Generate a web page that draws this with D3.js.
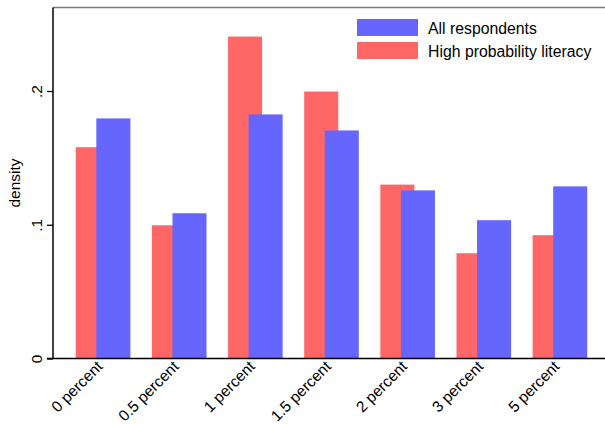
<!DOCTYPE html>
<html><head><meta charset="utf-8">
<script src="https://cdn.jsdelivr.net/npm/d3@7"></script>
<style>body{margin:0;background:#fff}svg{display:block}text{font-family:"Liberation Sans",Arial,sans-serif;fill:#000}</style>
</head><body>
<svg id="c" width="605" height="424"></svg>
<script>
const categories = ["0 percent","0.5 percent","1 percent","1.5 percent","2 percent","3 percent","5 percent"];
const highLiteracy = [0.158, 0.0996, 0.2407, 0.1996, 0.130, 0.0787, 0.0922];
const allRespondents = [0.1795, 0.1086, 0.1825, 0.1705, 0.1257, 0.1034, 0.1287];
const yTicks = [0, 0.1, 0.2];
const yTickLabels = ["0", ".1", ".2"];
const seriesNames = ["All respondents", "High probability literacy"];
const colors = {all: "#6666ff", high: "#ff6666"};

const svg = d3.select("#c");
const x = d3.scaleLinear().domain([-0.5, 6.5]).range([65, 598]);
const y = d3.scaleLinear().domain([0, 0.2]).range([358.5, 91]);
const plotLeft = 53, plotTop = 7.5, plotBottom = y(0);
const bw = x(0.447) - x(0);
const off = x(0.135) - x(0);
const fs = 15.5;

// top frame line
svg.append("line").attr("x1", plotLeft).attr("x2", 605).attr("y1", plotTop).attr("y2", plotTop)
  .attr("stroke", "#7a7a7a").attr("stroke-width", 1.5);

// bars: red behind, blue in front
svg.append("g").selectAll("rect").data(highLiteracy).join("rect")
  .attr("x", (d,i) => x(i) - off - bw/2).attr("width", bw)
  .attr("y", d => y(d)).attr("height", d => y(0) - y(d)).attr("fill", colors.high);
svg.append("g").selectAll("rect").data(allRespondents).join("rect")
  .attr("x", (d,i) => x(i) + off - bw/2).attr("width", bw)
  .attr("y", d => y(d)).attr("height", d => y(0) - y(d)).attr("fill", colors.all);

// y axis
const ya = svg.append("g").attr("transform", `translate(${plotLeft},0)`)
  .call(d3.axisLeft(y).tickValues(yTicks).tickFormat((d,i)=>yTickLabels[i]).tickSize(6).tickSizeOuter(0));
ya.select(".domain").remove();
ya.selectAll(".tick line").attr("stroke", "#000").attr("stroke-width", 1.3);
ya.selectAll(".tick text").attr("font-size", fs).attr("text-anchor", "middle")
  .attr("transform", "rotate(-90)").attr("x", null).attr("dy", null)
  .attr("y", -11);
svg.append("line").attr("x1", plotLeft).attr("x2", plotLeft).attr("y1", plotTop).attr("y2", plotBottom+0.5)
  .attr("stroke", "#000").attr("stroke-width", 1.5);

// x axis line
svg.append("line").attr("x1", plotLeft - 6).attr("x2", 605).attr("y1", plotBottom).attr("y2", plotBottom)
  .attr("stroke", "#000").attr("stroke-width", 1.5);
const xa = svg.append("g").attr("transform", `translate(0,${plotBottom})`)
  .call(d3.axisBottom(x).tickValues(d3.range(categories.length)).tickFormat(i => categories[i]).tickSize(0));
xa.select(".domain").remove();
xa.selectAll(".tick text").attr("font-size", fs).attr("text-anchor", "end")
  .attr("y", null).attr("dy", null)
  .attr("transform", "translate(0,9) rotate(-45)");

// y title
svg.append("text").attr("transform", `translate(20,${(plotTop+plotBottom)/2}) rotate(-90)`)
  .attr("text-anchor", "middle").attr("font-size", fs).text("density");

// legend
const lg = svg.append("g");
[colors.all, colors.high].forEach((c, i) => {
  lg.append("rect").attr("x", 357).attr("y", 19 + i*23).attr("width", 61).attr("height", 17).attr("fill", c);
  lg.append("text").attr("x", 428).attr("y", 33.5 + i*23).attr("font-size", 15.8).text(seriesNames[i]);
});
</script>
</body></html>
